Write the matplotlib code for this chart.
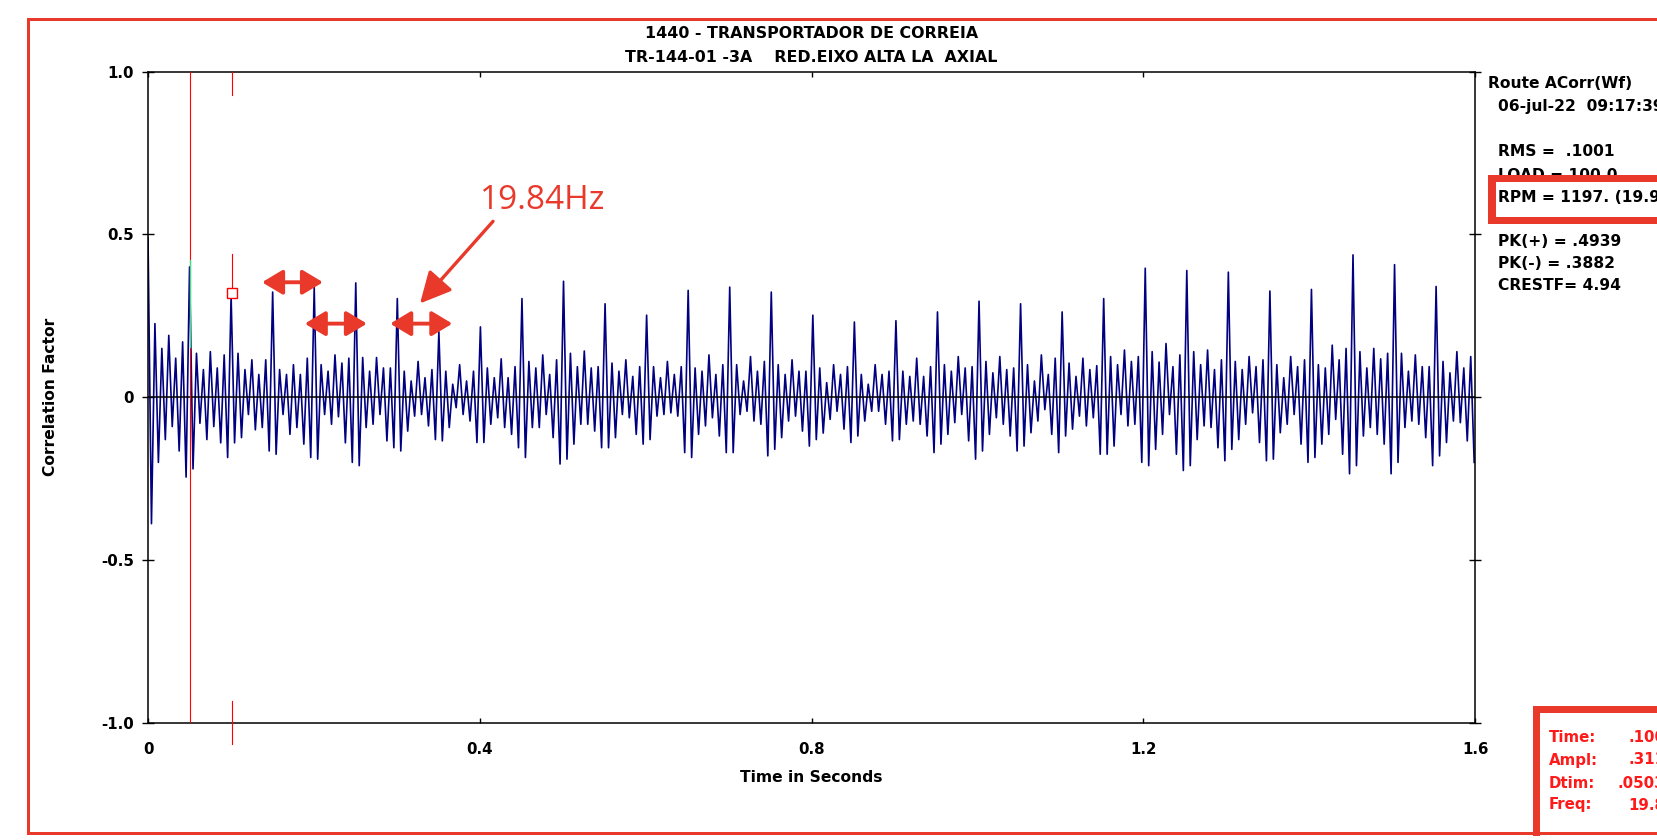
import numpy as np
import matplotlib
matplotlib.use("Agg")
import matplotlib.pyplot as plt
from matplotlib.patches import Rectangle, FancyArrowPatch, ArrowStyle

# ---------------- data ----------------
main_period = 0.0501          # seconds between the tall correlation peaks
cycles_per_period = 6         # small oscillations per period

# cycle maxima per period (first value = tall peak)
cycle_max = [
    [0.490, 0.226, 0.150, 0.190, 0.120, 0.170],
    [0.400, 0.135, 0.085, 0.140, 0.090, 0.130],
    [0.311, 0.135, 0.085, 0.115, 0.070, 0.115],
    [0.323, 0.085, 0.070, 0.100, 0.070, 0.120],
    [0.338, 0.100, 0.080, 0.130, 0.105, 0.120],
    [0.351, 0.122, 0.080, 0.122, 0.090, 0.090],
    [0.303, 0.080, 0.050, 0.110, 0.060, 0.085],
    [0.201, 0.080, 0.040, 0.100, 0.050, 0.080],
    [0.216, 0.090, 0.060, 0.118, 0.060, 0.094],
    [0.303, 0.110, 0.090, 0.130, 0.070, 0.115],
    [0.356, 0.135, 0.094, 0.142, 0.090, 0.094],
    [0.287, 0.105, 0.080, 0.115, 0.064, 0.094],
    [0.252, 0.094, 0.060, 0.110, 0.070, 0.094],
    [0.328, 0.090, 0.080, 0.130, 0.070, 0.100],
    [0.338, 0.100, 0.050, 0.125, 0.080, 0.110],
    [0.323, 0.100, 0.070, 0.115, 0.080, 0.080],
    [0.252, 0.090, 0.045, 0.100, 0.070, 0.094],
    [0.231, 0.070, 0.040, 0.100, 0.070, 0.080],
    [0.235, 0.080, 0.064, 0.120, 0.064, 0.094],
    [0.262, 0.100, 0.080, 0.125, 0.090, 0.094],
    [0.295, 0.110, 0.075, 0.125, 0.085, 0.090],
    [0.287, 0.100, 0.050, 0.130, 0.070, 0.120],
    [0.262, 0.105, 0.064, 0.120, 0.085, 0.097],
    [0.303, 0.125, 0.100, 0.145, 0.110, 0.125],
    [0.396, 0.140, 0.108, 0.165, 0.094, 0.130],
    [0.389, 0.140, 0.100, 0.145, 0.085, 0.115],
    [0.384, 0.110, 0.085, 0.125, 0.094, 0.115],
    [0.326, 0.100, 0.060, 0.125, 0.094, 0.115],
    [0.331, 0.100, 0.090, 0.160, 0.115, 0.150],
    [0.437, 0.140, 0.090, 0.150, 0.118, 0.135],
    [0.407, 0.135, 0.080, 0.130, 0.094, 0.094],
    [0.340, 0.110, 0.075, 0.140, 0.090, 0.125],
]
# cycle minima per period (minimum following each maximum)
cycle_min = [
    [-0.388, -0.200, -0.130, -0.090, -0.165, -0.245],
    [-0.220, -0.080, -0.130, -0.090, -0.140, -0.185],
    [-0.140, -0.124, -0.053, -0.100, -0.093, -0.165],
    [-0.175, -0.053, -0.114, -0.093, -0.144, -0.185],
    [-0.190, -0.053, -0.083, -0.060, -0.140, -0.200],
    [-0.210, -0.093, -0.083, -0.053, -0.134, -0.155],
    [-0.165, -0.104, -0.058, -0.053, -0.088, -0.130],
    [-0.134, -0.093, -0.032, -0.053, -0.073, -0.139],
    [-0.139, -0.083, -0.063, -0.093, -0.114, -0.155],
    [-0.185, -0.093, -0.093, -0.053, -0.124, -0.205],
    [-0.190, -0.144, -0.083, -0.083, -0.104, -0.155],
    [-0.155, -0.124, -0.053, -0.063, -0.114, -0.144],
    [-0.130, -0.058, -0.053, -0.048, -0.058, -0.170],
    [-0.185, -0.114, -0.088, -0.063, -0.119, -0.170],
    [-0.170, -0.053, -0.043, -0.073, -0.083, -0.180],
    [-0.160, -0.124, -0.073, -0.058, -0.104, -0.150],
    [-0.130, -0.110, -0.068, -0.043, -0.098, -0.139],
    [-0.119, -0.073, -0.043, -0.043, -0.083, -0.134],
    [-0.130, -0.083, -0.073, -0.083, -0.119, -0.170],
    [-0.144, -0.114, -0.078, -0.053, -0.134, -0.190],
    [-0.165, -0.114, -0.063, -0.083, -0.119, -0.165],
    [-0.150, -0.109, -0.073, -0.038, -0.114, -0.170],
    [-0.119, -0.098, -0.058, -0.088, -0.063, -0.175],
    [-0.175, -0.150, -0.053, -0.088, -0.083, -0.200],
    [-0.210, -0.160, -0.114, -0.053, -0.175, -0.225],
    [-0.210, -0.130, -0.088, -0.093, -0.155, -0.195],
    [-0.160, -0.130, -0.083, -0.048, -0.139, -0.195],
    [-0.190, -0.109, -0.083, -0.053, -0.144, -0.200],
    [-0.185, -0.144, -0.114, -0.068, -0.175, -0.235],
    [-0.210, -0.119, -0.093, -0.114, -0.144, -0.235],
    [-0.200, -0.093, -0.073, -0.083, -0.124, -0.210],
    [-0.180, -0.139, -0.073, -0.078, -0.134, -0.200],
]

x_ticks = [0, 0.4, 0.8, 1.2, 1.6]
x_tick_labels = ["0", "0.4", "0.8", "1.2", "1.6"]
y_ticks = [-1.0, -0.5, 0, 0.5, 1.0]
y_tick_labels = ["-1.0", "-0.5", "0", "0.5", "1.0"]

title_lines = ["1440 - TRANSPORTADOR DE CORREIA",
               "TR-144-01 -3A    RED.EIXO ALTA LA  AXIAL"]
info_lines = ["RMS =  .1001", "LOAD = 100.0", "RPM = 1197. (19.95 Hz)",
              "PK(+) = .4939", "PK(-) = .3882", "CRESTF= 4.94"]
cursor_labels = ["Time:", "Ampl:", "Dtim:", "Freq:"]
cursor_values = [".1008", ".3111", ".05039", "19.84"]
cursor1_time = 0.0504
cursor2_time = 0.1007
cursor2_ampl = 0.321

# ---------------- build series ----------------
values = []
for mx, mn in zip(cycle_max, cycle_min):
    for a, b in zip(mx, mn):
        values.append(a)
        values.append(b)
values = np.array(values)
dt = main_period / (2 * cycles_per_period)
times = np.arange(len(values)) * dt

# ---------------- figure ----------------
W, H = 1658, 840
fig = plt.figure(figsize=(W / 100, H / 100), dpi=100)
fig.patch.set_facecolor("white")

def fx(x):
    return x / W

def fy(y):
    return 1 - y / H

FONT = "DejaVu Sans"
RED_BOX = "#e8392a"

ax = fig.add_axes([fx(148), fy(723), (1475 - 148) / W, (723 - 71.5) / H])
ax.set_xlim(0, 1.6)
ax.set_ylim(-1, 1)
for s in ax.spines.values():
    s.set_linewidth(1.1)
    s.set_color("black")

ax.set_xticks(x_ticks)
ax.set_xticklabels(x_tick_labels, fontfamily=FONT, fontweight="bold", fontsize=10.8)
ax.set_yticks(y_ticks)
ax.set_yticklabels(y_tick_labels, fontfamily=FONT, fontweight="bold", fontsize=10.8)
ax.tick_params(axis="x", direction="in", length=3.8, width=1, top=True, pad=14)
ax.tick_params(axis="y", direction="inout", length=8, width=1, right=True, pad=6)

ax.axhline(0, color="black", lw=1.1, zorder=3)
ax.plot(times, values, color="#000080", lw=1.2, zorder=2)

# cursors
ax.axvline(cursor1_time, color="red", lw=0.8, zorder=4)
ax.plot([cursor1_time] * 2, [0.155, 0.42], color="#3ee08a", lw=1.0, zorder=5)
for y0, y1 in [(0.928, 1.0), (0.335, 0.44), (-1.065, -0.933)]:
    ax.plot([cursor2_time] * 2, [y0, y1], color="red", lw=0.8, zorder=4, clip_on=False)
ax.plot([cursor2_time], [cursor2_ampl], marker="s", ms=6.5, mfc="white",
        mec="red", mew=1.0, zorder=6)

# annotations
def dbl_arrow(x0, x1, y):
    st = ArrowStyle("<|-|>", head_length=1.25, head_width=0.75)
    a = FancyArrowPatch((x0, y), (x1, y), arrowstyle=st, mutation_scale=10,
                        color=RED_BOX, lw=2.8, shrinkA=0, shrinkB=0, zorder=7)
    ax.add_patch(a)

dbl_arrow(0.1375, 0.211, 0.353)
dbl_arrow(0.189, 0.264, 0.226)
dbl_arrow(0.292, 0.367, 0.226)
st1 = ArrowStyle("-|>", head_length=1.9, head_width=0.95)
ax.add_patch(FancyArrowPatch((0.416, 0.540), (0.328, 0.288), arrowstyle=st1,
                             mutation_scale=10, color=RED_BOX, lw=2.4,
                             shrinkA=0, shrinkB=0, zorder=7))
ax.text(0.4005, 0.5775, "19.84Hz", color=RED_BOX, fontsize=24,
        fontfamily="Open Sans", ha="left", va="baseline", zorder=8)

# titles and labels
fig.text(fx(811.5), fy(34), title_lines[0], ha="center", va="center",
         fontfamily=FONT, fontweight="bold", fontsize=11.4)
fig.text(fx(811.5), fy(57), title_lines[1], ha="center", va="center",
         fontfamily=FONT, fontweight="bold", fontsize=11.4)
fig.text(fx(811.5), fy(778), "Time in Seconds", ha="center", va="center",
         fontfamily=FONT, fontweight="bold", fontsize=11.2)
fig.text(fx(51), fy(397), "Correlation Factor", ha="center", va="center",
         rotation=90, fontfamily=FONT, fontweight="bold", fontsize=11.2)

# right-hand info text
fig.text(fx(1488), fy(84), "Route ACorr(Wf)", ha="left", va="center",
         fontfamily=FONT, fontweight="bold", fontsize=11.2)
fig.text(fx(1498), fy(106), "06-jul-22  09:17:39", ha="left", va="center",
         fontfamily=FONT, fontweight="bold", fontsize=11.2)
info_y = [151, 176, 197, 241, 263, 286]
for txt, yy in zip(info_lines, info_y):
    fig.text(fx(1498), fy(yy), txt, ha="left", va="center",
             fontfamily=FONT, fontweight="bold", fontsize=11.2, zorder=5)

def px_rect(x0, y0, x1, y1, color, z=10):
    fig.add_artist(Rectangle((fx(x0), fy(y1)), (x1 - x0) / W, (y1 - y0) / H,
                             transform=fig.transFigure, facecolor=color,
                             edgecolor="none", lw=0, zorder=z))

# RPM highlight box
px_rect(1488, 175, 1496, 224, RED_BOX)
px_rect(1488, 175, W, 182, RED_BOX)
px_rect(1488, 217, W, 224, RED_BOX)

# cursor readout box
px_rect(1533, 706, 1540, 836, RED_BOX)
px_rect(1533, 706, W, 713, RED_BOX)
cur_y = [737, 760, 783, 805]
for lab, val, yy in zip(cursor_labels, cursor_values, cur_y):
    fig.text(fx(1549), fy(yy), lab, ha="left", va="center", color="#ff1a1a",
             fontfamily=FONT, fontweight="bold", fontsize=10.8)
    fig.text(fx(1676), fy(yy), val, ha="right", va="center", color="#ff1a1a",
             fontfamily=FONT, fontweight="bold", fontsize=10.8)

# outer red frame
px_rect(27, 18.3, 30, 834, RED_BOX)
px_rect(27, 18.3, W, 21, RED_BOX)
px_rect(27, 831.5, W, 834.5, RED_BOX)

fig.savefig("out.png", dpi=100)
